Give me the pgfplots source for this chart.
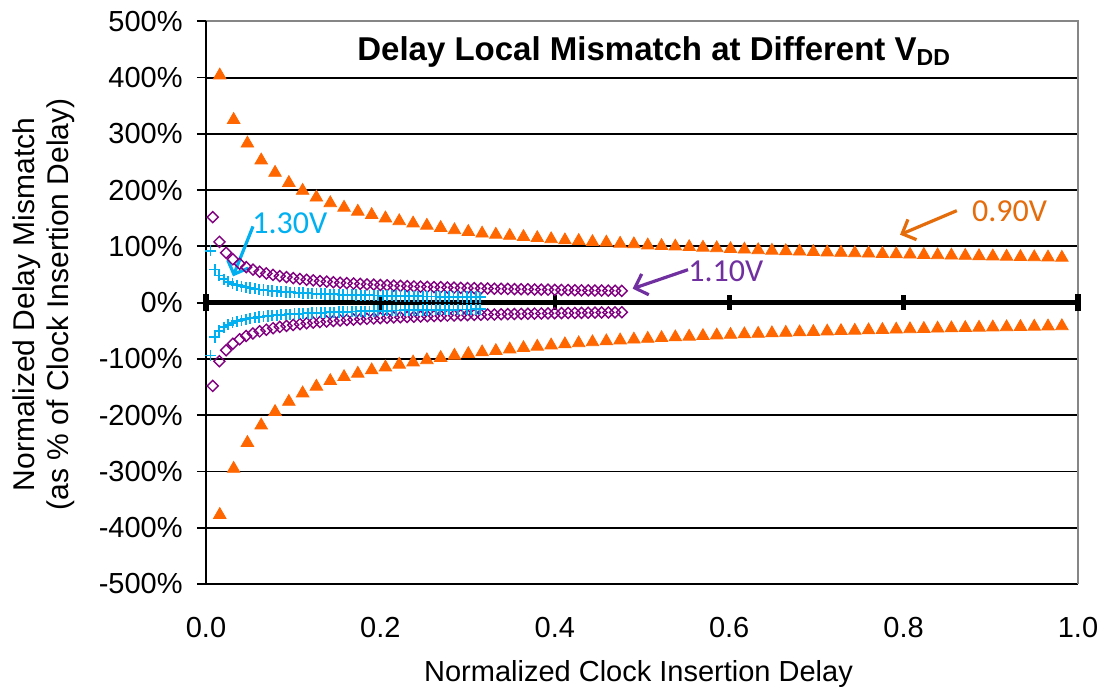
\documentclass[border=0pt]{standalone}
\usepackage{fontspec}
\setmainfont{Liberation Sans}
\newfontfamily\calibri{Carlito}
\usepackage{pgfplots}
\pgfplotsset{compat=1.18}
\usetikzlibrary{arrows.meta}
\definecolor{triorange}{RGB}{255,102,0}
\definecolor{txtorange}{RGB}{228,108,10}
\definecolor{diapurple}{RGB}{128,0,128}
\definecolor{txtpurple}{RGB}{112,48,160}
\definecolor{pluscyan}{RGB}{0,176,240}
\definecolor{bordergray}{RGB}{134,134,134}
\begin{document}
\begin{tikzpicture}
\path[use as bounding box] (-103pt,-51.5pt) rectangle (453pt,292pt);
\begin{axis}[
  at={(0,0)}, anchor=south west,
  width=436pt, height=281.35pt, scale only axis,
  xmin=0, xmax=1, ymin=-500, ymax=500,
  axis line style={draw=none},
  clip=false,
  xtick={0,0.2,0.4,0.6,0.8,1},
  xticklabels={0.0,0.2,0.4,0.6,0.8,1.0},
  xtick style={draw=none},
  ytick={-500,-400,-300,-200,-100,0,100,200,300,400,500},
  yticklabels={-500\%,-400\%,-300\%,-200\%,-100\%,0\%,100\%,200\%,300\%,400\%,500\%},
  ytick pos=left, ytick align=outside,
  major tick length=4.5pt,
  ytick style={black, line width=0.9pt},
  ymajorgrids, grid style={black, line width=0.95pt},
  tick label style={font=\fontsize{14.5}{17}\selectfont},
  xticklabel style={anchor=base, yshift=-26.5pt},
  yticklabel style={anchor=east, inner sep=0pt, xshift=-7pt},
  xlabel={Normalized Clock Insertion Delay},
  xlabel style={at={(axis description cs:0.496,-0.1733)}, anchor=base, font=\fontsize{14.5}{17}\selectfont},
  ylabel={Normalized Delay Mismatch\\(as \% of Clock Insertion Delay)},
  ylabel style={at={(axis description cs:-0.1865,0.497)}, anchor=center, align=center, font=\fontsize{15}{17}\selectfont},
]
% plot area border and axes
\draw[bordergray, line width=0.9pt] (rel axis cs:0,1) -- (rel axis cs:1,1) -- (rel axis cs:1,0);
\draw[black, line width=1pt] (rel axis cs:0,0) -- (rel axis cs:0,1);
\draw[black, line width=2.7pt] (axis cs:0,0) -- (axis cs:1,0);
\draw[black, line width=2.6pt] ([yshift=-4.4pt]axis cs:0,0) -- ([yshift=4.4pt]axis cs:0,0);
\draw[black, line width=2.3pt] ([yshift=-3.6pt]axis cs:0.2,0) -- ([yshift=3.6pt]axis cs:0.2,0);
\draw[black, line width=2.3pt] ([yshift=-3.6pt]axis cs:0.4,0) -- ([yshift=3.6pt]axis cs:0.4,0);
\draw[black, line width=2.3pt] ([yshift=-3.6pt]axis cs:0.6,0) -- ([yshift=3.6pt]axis cs:0.6,0);
\draw[black, line width=2.3pt] ([yshift=-3.6pt]axis cs:0.8,0) -- ([yshift=3.6pt]axis cs:0.8,0);
\draw[black, line width=2.6pt] ([yshift=-4.4pt]axis cs:1,0) -- ([yshift=4.4pt]axis cs:1,0);

% 0.90V upper
\addplot[only marks, mark=triangle*, mark size=3.6pt, color=triorange] coordinates {
(0.0158,404) (0.0317,325) (0.0475,283) (0.0633,253) (0.0792,231) (0.0950,213) (0.1108,199) (0.1266,187) (0.1425,177) (0.1583,169) (0.1741,162) (0.1900,156) (0.2058,150) (0.2216,145) (0.2375,141) (0.2533,137) (0.2691,133) (0.2849,129) (0.3008,126) (0.3166,123) (0.3324,121) (0.3483,119) (0.3641,117) (0.3799,115) (0.3958,113) (0.4116,111) (0.4274,110) (0.4432,108) (0.4591,107) (0.4749,105) (0.4907,104) (0.5066,102) (0.5224,101) (0.5382,100) (0.5541,99) (0.5699,98) (0.5857,97) (0.6015,95.5) (0.6174,94.5) (0.6332,93.5) (0.6490,92.5) (0.6649,91.8) (0.6807,91.0) (0.6965,90.3) (0.7124,89.5) (0.7282,88.8) (0.7440,88.1) (0.7598,87.5) (0.7757,86.9) (0.7915,86.2) (0.8073,85.6) (0.8232,85.1) (0.8390,84.5) (0.8548,83.9) (0.8707,83.4) (0.8865,82.9) (0.9023,82.4) (0.9181,81.9) (0.9340,81.4) (0.9498,80.9) (0.9656,80.5) (0.9815,80.0)
};
% 0.90V lower
\addplot[only marks, mark=triangle*, mark size=3.6pt, color=triorange] coordinates {
(0.0158,-377) (0.0317,-295) (0.0475,-249) (0.0633,-218) (0.0792,-194) (0.0950,-176) (0.1108,-161) (0.1266,-149) (0.1425,-139) (0.1583,-132) (0.1741,-126) (0.1900,-120) (0.2058,-115) (0.2216,-110) (0.2375,-106) (0.2533,-102) (0.2691,-98) (0.2849,-94) (0.3008,-91) (0.3166,-88) (0.3324,-85.7) (0.3483,-82.9) (0.3641,-80.4) (0.3799,-78.0) (0.3958,-75.8) (0.4116,-73.8) (0.4274,-71.9) (0.4432,-70.1) (0.4591,-68.4) (0.4749,-66.8) (0.4907,-65.3) (0.5066,-64.0) (0.5224,-62.6) (0.5382,-61.4) (0.5541,-60.2) (0.5699,-59.1) (0.5857,-58.0) (0.6015,-57.0) (0.6174,-56.0) (0.6332,-55.1) (0.6490,-54.2) (0.6649,-53.3) (0.6807,-52.5) (0.6965,-51.7) (0.7124,-51.0) (0.7282,-50.2) (0.7440,-49.6) (0.7598,-48.9) (0.7757,-48.2) (0.7915,-47.6) (0.8073,-47.0) (0.8232,-46.4) (0.8390,-45.9) (0.8548,-45.3) (0.8707,-44.8) (0.8865,-44.3) (0.9023,-43.8) (0.9181,-43.4) (0.9340,-42.9) (0.9498,-42.4) (0.9656,-42.0) (0.9815,-41.6)
};
% 1.10V upper
\addplot[only marks, mark=square, mark size=1.95pt, mark options={rotate=45, line width=0.7pt}, color=diapurple] coordinates {
(0.0077,152) (0.0154,108.1) (0.0231,88.6) (0.0308,77) (0.0385,69.1) (0.0461,63.2) (0.0538,58.7) (0.0615,55) (0.0692,52) (0.0769,49.4) (0.0846,47.2) (0.0923,45.3) (0.1000,43.6) (0.1077,42.1) (0.1154,40.7) (0.1230,39.5) (0.1307,38.4) (0.1384,37.4) (0.1461,36.4) (0.1538,35.5) (0.1615,34.7) (0.1692,34) (0.1769,33.3) (0.1846,32.6) (0.1923,32) (0.1999,31.4) (0.2076,30.9) (0.2153,30.3) (0.2230,29.9) (0.2307,29.4) (0.2384,28.9) (0.2461,28.5) (0.2538,28.1) (0.2615,27.7) (0.2692,27.4) (0.2768,27) (0.2845,26.7) (0.2922,26.3) (0.2999,26) (0.3076,25.7) (0.3153,25.4) (0.3230,25.1) (0.3307,24.9) (0.3384,24.6) (0.3461,24.4) (0.3537,24.1) (0.3614,23.9) (0.3691,23.7) (0.3768,23.4) (0.3845,23.2) (0.3922,23) (0.3999,22.8) (0.4076,22.6) (0.4153,22.4) (0.4230,22.2) (0.4306,22) (0.4383,21.9) (0.4460,21.7) (0.4537,21.5) (0.4614,21.4) (0.4691,21.2) (0.4768,21)
};
% 1.10V lower
\addplot[only marks, mark=square, mark size=1.95pt, mark options={rotate=45, line width=0.7pt}, color=diapurple] coordinates {
(0.0077,-148) (0.0154,-104.1) (0.0231,-84.6) (0.0308,-73) (0.0385,-65.1) (0.0461,-59.2) (0.0538,-54.7) (0.0615,-51) (0.0692,-48) (0.0769,-45.4) (0.0846,-43.2) (0.0923,-41.3) (0.1000,-39.6) (0.1077,-38.1) (0.1154,-36.7) (0.1230,-35.5) (0.1307,-34.4) (0.1384,-33.4) (0.1461,-32.4) (0.1538,-31.5) (0.1615,-30.7) (0.1692,-30) (0.1769,-29.3) (0.1846,-28.6) (0.1923,-28) (0.1999,-27.4) (0.2076,-26.9) (0.2153,-26.3) (0.2230,-25.9) (0.2307,-25.4) (0.2384,-24.9) (0.2461,-24.5) (0.2538,-24.1) (0.2615,-23.7) (0.2692,-23.4) (0.2768,-23) (0.2845,-22.7) (0.2922,-22.3) (0.2999,-22) (0.3076,-21.7) (0.3153,-21.4) (0.3230,-21.1) (0.3307,-20.9) (0.3384,-20.6) (0.3461,-20.4) (0.3537,-20.1) (0.3614,-19.9) (0.3691,-19.7) (0.3768,-19.4) (0.3845,-19.2) (0.3922,-19) (0.3999,-18.8) (0.4076,-18.6) (0.4153,-18.4) (0.4230,-18.2) (0.4306,-18) (0.4383,-17.9) (0.4460,-17.7) (0.4537,-17.5) (0.4614,-17.4) (0.4691,-17.2) (0.4768,-17)
};
% 1.30V upper
\addplot[only marks, mark=+, mark size=2.8pt, mark options={line width=0.9pt}, color=pluscyan] coordinates {
(0.0051,92) (0.0101,59.1) (0.0152,48.1) (0.0203,41.5) (0.0254,37) (0.0304,33.7) (0.0355,31.1) (0.0406,29.1) (0.0456,27.3) (0.0507,25.9) (0.0558,24.6) (0.0608,23.5) (0.0659,22.6) (0.0710,21.7) (0.0761,20.9) (0.0811,20.3) (0.0862,19.6) (0.0913,19) (0.0963,18.5) (0.1014,18) (0.1065,17.5) (0.1115,17.1) (0.1166,16.7) (0.1217,16.4) (0.1268,16) (0.1318,15.7) (0.1369,15.4) (0.1420,15.1) (0.1470,14.8) (0.1521,14.5) (0.1572,14.3) (0.1622,14) (0.1673,13.8) (0.1724,13.6) (0.1775,13.4) (0.1825,13.2) (0.1876,13) (0.1927,12.8) (0.1977,12.6) (0.2028,12.4) (0.2079,12.3) (0.2129,12.1) (0.2180,12) (0.2231,11.8) (0.2282,11.7) (0.2332,11.5) (0.2383,11.4) (0.2434,11.3) (0.2484,11.1) (0.2535,11) (0.2586,10.9) (0.2636,10.8) (0.2687,10.7) (0.2738,10.6) (0.2789,10.5) (0.2839,10.4) (0.2890,10.3) (0.2941,10.2) (0.2991,10.1) (0.3042,10) (0.3093,9.9) (0.3143,9.8)
};
% 1.30V lower
\addplot[only marks, mark=+, mark size=2.8pt, mark options={line width=0.9pt}, color=pluscyan] coordinates {
(0.0051,-94) (0.0101,-61.1) (0.0152,-50.1) (0.0203,-43.5) (0.0254,-39) (0.0304,-35.7) (0.0355,-33.1) (0.0406,-31.1) (0.0456,-29.3) (0.0507,-27.9) (0.0558,-26.6) (0.0608,-25.5) (0.0659,-24.6) (0.0710,-23.7) (0.0761,-22.9) (0.0811,-22.3) (0.0862,-21.6) (0.0913,-21) (0.0963,-20.5) (0.1014,-20) (0.1065,-19.5) (0.1115,-19.1) (0.1166,-18.7) (0.1217,-18.4) (0.1268,-18) (0.1318,-17.7) (0.1369,-17.4) (0.1420,-17.1) (0.1470,-16.8) (0.1521,-16.5) (0.1572,-16.3) (0.1622,-16) (0.1673,-15.8) (0.1724,-15.6) (0.1775,-15.4) (0.1825,-15.2) (0.1876,-15) (0.1927,-14.8) (0.1977,-14.6) (0.2028,-14.4) (0.2079,-14.3) (0.2129,-14.1) (0.2180,-14) (0.2231,-13.8) (0.2282,-13.7) (0.2332,-13.5) (0.2383,-13.4) (0.2434,-13.3) (0.2484,-13.1) (0.2535,-13) (0.2586,-12.9) (0.2636,-12.8) (0.2687,-12.7) (0.2738,-12.6) (0.2789,-12.5) (0.2839,-12.4) (0.2890,-12.3) (0.2941,-12.2) (0.2991,-12.1) (0.3042,-12) (0.3093,-11.9) (0.3143,-11.8)
};

% title
\node[font=\fontsize{16.5}{19}\selectfont\bfseries] at (rel axis cs:0.514,0.9454) {Delay Local Mismatch at Different V\textsubscript{DD}};
% annotations
\node[anchor=west, inner sep=0pt, text=pluscyan, font=\calibri\fontsize{16}{19}\selectfont] at (axis cs:0.0528,141) {1.30V};
\draw[pluscyan, line width=1.6pt, -{Straight Barb[length=5.5pt,width=11pt]}] (axis cs:0.0539,135.6) -- (axis cs:0.031,46.7);
\node[anchor=west, inner sep=0pt, text=txtpurple, font=\calibri\fontsize{16}{19}\selectfont] at (axis cs:0.5528,55.6) {1.10V};
\draw[txtpurple, line width=1.6pt, -{Straight Barb[length=5.5pt,width=11pt]}] (axis cs:0.5528,58.6) -- (axis cs:0.4893,24.9);
\node[anchor=west, inner sep=0pt, text=txtorange, font=\calibri\fontsize{16}{19}\selectfont] at (axis cs:0.878,162.3) {0.90V};
\draw[txtorange, line width=1.6pt, -{Straight Barb[length=5.5pt,width=11pt]}] (axis cs:0.861,163.5) -- (axis cs:0.7959,120.8);
\end{axis}
\end{tikzpicture}
\end{document}
